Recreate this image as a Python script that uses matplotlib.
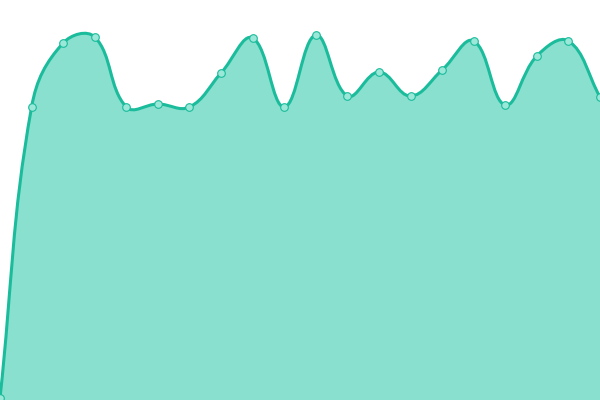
import numpy as np
import matplotlib
matplotlib.use("Agg")
import matplotlib.pyplot as plt
from matplotlib.path import Path
from matplotlib.patches import PathPatch

# data
labels = list(range(20))
values = [2, 293, 357, 363, 293, 296, 293, 327, 362, 293,
          365, 304, 328, 304, 330, 359, 295, 344, 359, 303]

LINE = "#1abc9c"
FILL = "#8ae0cf"
TENSION = 0.4

fig = plt.figure(figsize=(6, 4), dpi=100)
ax = fig.add_axes([0, 0, 1, 1])
ax.set_xlim(0, len(labels) - 1)
ax.set_ylim(0, 400)
ax.axis("off")

# compute spline in pixel space (Chart.js style), then map back to data
pts = ax.transData.transform(np.column_stack([labels, values]).astype(float))
n = len(pts)
cprev = np.zeros_like(pts)
cnext = np.zeros_like(pts)
for i in range(n):
    p = pts[i]
    pv = pts[i - 1] if i > 0 else p
    nx = pts[i + 1] if i < n - 1 else p
    d01 = np.hypot(*(p - pv))
    d12 = np.hypot(*(nx - p))
    tot = d01 + d12
    s01 = d01 / tot if tot else 0
    s12 = d12 / tot if tot else 0
    fa = TENSION * s01
    fb = TENSION * s12
    cprev[i] = p - fa * (nx - pv)
    cnext[i] = p + fb * (nx - pv)

verts = [pts[0]]
codes = [Path.MOVETO]
for i in range(n - 1):
    verts += [cnext[i], cprev[i + 1], pts[i + 1]]
    codes += [Path.CURVE4] * 3
inv = ax.transData.inverted()
verts_d = inv.transform(np.array(verts))

line_path = Path(verts_d, codes)
fill_verts = list(verts_d) + [[labels[-1], 0], [labels[0], 0], verts_d[0]]
fill_codes = codes + [Path.LINETO, Path.LINETO, Path.CLOSEPOLY]
ax.add_patch(PathPatch(Path(fill_verts, fill_codes), facecolor=FILL,
                       edgecolor="none", zorder=1))
ax.add_patch(PathPatch(line_path, facecolor="none", edgecolor=LINE,
                       linewidth=2.2, zorder=2))
ax.plot(labels, values, linestyle="none", marker="o", markersize=5.5,
        markerfacecolor="#9be8d8", markeredgecolor=LINE, markeredgewidth=0.8,
        zorder=3, clip_on=True)

fig.savefig("out.png", dpi=100)
